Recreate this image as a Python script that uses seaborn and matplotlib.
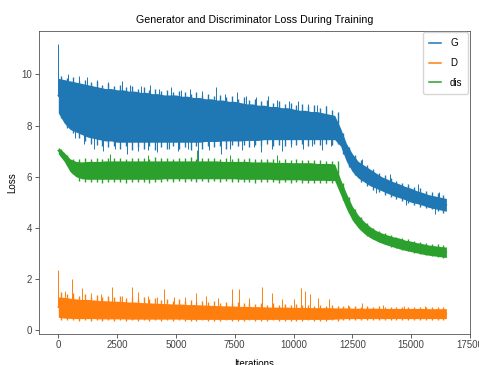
import numpy as np
import pandas as pd
import matplotlib
matplotlib.use("Agg")
import matplotlib.pyplot as plt
import seaborn as sns

# ---- data (band envelopes every 250 iterations) ----
iterations = list(range(0, 16501, 250))
mid_iterations = list(range(125, 16501, 250))

G_top = [9.85, 9.8, 9.75, 9.7, 9.65, 9.6, 9.55, 9.5, 9.45, 9.45,
         9.4, 9.4, 9.35, 9.35, 9.3, 9.3, 9.25, 9.25, 9.2, 9.2,
         9.2, 9.15, 9.15, 9.1, 9.1, 9.05, 9.05, 9.0, 9.0, 8.95,
         8.95, 8.9, 8.85, 8.85, 8.8, 8.8, 8.75, 8.75, 8.7, 8.7,
         8.65, 8.6, 8.6, 8.55, 8.55, 8.5, 8.45, 8.4, 7.9, 7.3,
         6.9, 6.6, 6.45, 6.3, 6.15, 6.0, 5.9, 5.8, 5.72, 5.62,
         5.55, 5.45, 5.38, 5.3, 5.25, 5.2, 5.15]
G_bot = [8.5, 8.1, 7.85, 7.75, 7.65, 7.55, 7.5, 7.45, 7.4, 7.4,
         7.35, 7.35, 7.35, 7.35, 7.35, 7.35, 7.35, 7.35, 7.35, 7.35,
         7.35, 7.35, 7.35, 7.35, 7.35, 7.38, 7.38, 7.38, 7.4, 7.4,
         7.4, 7.4, 7.42, 7.42, 7.42, 7.45, 7.45, 7.45, 7.45, 7.45,
         7.45, 7.45, 7.45, 7.45, 7.45, 7.45, 7.45, 7.45, 7.2, 6.6,
         6.2, 5.95, 5.8, 5.65, 5.55, 5.45, 5.35, 5.25, 5.18, 5.1,
         5.0, 4.95, 4.88, 4.8, 4.75, 4.7, 4.65]
# fine peaks / dips of the noise, between the envelope points
G_peak = [9.95, 9.85, 9.9, 9.75, 9.8, 9.7, 9.75, 9.6, 9.65, 9.55,
          9.6, 9.5, 9.55, 9.45, 9.5, 9.4, 9.45, 9.35, 9.4, 9.3,
          9.35, 9.3, 9.25, 9.3, 9.2, 9.25, 9.15, 9.2, 9.1, 9.15,
          9.05, 9.1, 9.0, 9.05, 8.95, 9.0, 8.9, 8.95, 8.85, 8.9,
          8.8, 8.85, 8.75, 8.8, 8.7, 8.75, 8.6, 8.55, 7.7, 7.15,
          6.85, 6.65, 6.45, 6.3, 6.15, 6.05, 5.95, 5.85, 5.75, 5.7,
          5.6, 5.55, 5.45, 5.4, 5.35, 5.3]
G_dip = [8.3, 7.9, 7.7, 7.5, 7.4, 7.3, 7.25, 7.2, 7.15, 7.2,
         7.1, 7.2, 7.05, 7.15, 7.1, 7.2, 7.05, 7.15, 7.1, 7.2,
         7.1, 7.15, 7.05, 7.2, 7.1, 7.2, 7.15, 7.2, 7.1, 7.25,
         7.2, 7.25, 7.15, 7.25, 7.2, 7.3, 7.2, 7.25, 7.2, 7.3,
         7.25, 7.3, 7.2, 7.3, 7.25, 7.3, 7.25, 7.3, 6.9, 6.4,
         6.05, 5.8, 5.65, 5.5, 5.4, 5.3, 5.2, 5.12, 5.05, 4.98,
         4.9, 4.83, 4.77, 4.72, 4.66, 4.6]

D_top = [1.3, 1.28, 1.25, 1.22, 1.2, 1.2, 1.18, 1.16, 1.15, 1.14,
         1.13, 1.12, 1.1, 1.1, 1.08, 1.07, 1.06, 1.05, 1.04, 1.03,
         1.02, 1.02, 1.0, 1.0, 0.99, 0.98, 0.97, 0.96, 0.95, 0.95,
         0.94, 0.93, 0.93, 0.92, 0.92, 0.91, 0.9, 0.9, 0.9, 0.9,
         0.89, 0.89, 0.89, 0.88, 0.88, 0.88, 0.88, 0.87, 0.87, 0.87,
         0.86, 0.86, 0.86, 0.86, 0.86, 0.85, 0.85, 0.85, 0.85, 0.85,
         0.85, 0.85, 0.85, 0.84, 0.84, 0.84, 0.84]
D_bot = [0.5, 0.47, 0.46, 0.45, 0.45, 0.45, 0.45, 0.44, 0.44, 0.44,
         0.44, 0.44, 0.43, 0.43, 0.43, 0.43, 0.43, 0.43, 0.43, 0.43,
         0.43, 0.43, 0.42, 0.42, 0.42, 0.42, 0.42, 0.42, 0.42, 0.42,
         0.42, 0.42, 0.42, 0.42, 0.42, 0.42, 0.42, 0.42, 0.42, 0.42,
         0.42, 0.42, 0.42, 0.42, 0.42, 0.42, 0.42, 0.43, 0.44, 0.45,
         0.45, 0.45, 0.45, 0.45, 0.45, 0.45, 0.45, 0.45, 0.45, 0.45,
         0.45, 0.45, 0.45, 0.45, 0.45, 0.45, 0.45]
D_peak = [1.5, 1.4, 1.45, 1.35, 1.4, 1.3, 1.38, 1.3, 1.35, 1.28,
          1.32, 1.25, 1.3, 1.22, 1.28, 1.2, 1.25, 1.18, 1.22, 1.15,
          1.2, 1.15, 1.18, 1.12, 1.15, 1.1, 1.15, 1.08, 1.12, 1.05,
          1.1, 1.05, 1.08, 1.02, 1.06, 1.0, 1.05, 1.0, 1.03, 0.98,
          1.02, 0.98, 1.0, 0.96, 0.98, 0.95, 0.97, 0.94, 0.95, 0.93,
          0.94, 0.92, 0.93, 0.92, 0.93, 0.91, 0.92, 0.91, 0.92, 0.9,
          0.92, 0.9, 0.91, 0.9, 0.91, 0.9]
D_dip = [0.4, 0.38, 0.4, 0.37, 0.39, 0.37, 0.4, 0.36, 0.39, 0.37,
         0.38, 0.36, 0.39, 0.37, 0.38, 0.36, 0.39, 0.37, 0.38, 0.36,
         0.38, 0.36, 0.37, 0.35, 0.38, 0.36, 0.37, 0.35, 0.38, 0.36,
         0.37, 0.35, 0.38, 0.36, 0.37, 0.35, 0.38, 0.36, 0.37, 0.35,
         0.37, 0.35, 0.38, 0.36, 0.37, 0.36, 0.38, 0.37, 0.39, 0.38,
         0.4, 0.38, 0.4, 0.39, 0.4, 0.38, 0.4, 0.39, 0.4, 0.38,
         0.4, 0.39, 0.4, 0.38, 0.4, 0.39]

dis_top = [7.15, 6.95, 6.7, 6.6, 6.58, 6.6, 6.6, 6.6, 6.62, 6.62,
           6.62, 6.62, 6.62, 6.62, 6.62, 6.62, 6.62, 6.62, 6.62, 6.62,
           6.62, 6.62, 6.62, 6.62, 6.62, 6.62, 6.62, 6.62, 6.6, 6.6,
           6.6, 6.6, 6.6, 6.58, 6.58, 6.58, 6.58, 6.56, 6.56, 6.56,
           6.55, 6.55, 6.55, 6.55, 6.52, 6.52, 6.52, 6.5, 5.9, 5.35,
           4.85, 4.5, 4.25, 4.05, 3.9, 3.8, 3.72, 3.65, 3.6, 3.52,
           3.48, 3.42, 3.38, 3.33, 3.3, 3.27, 3.25]
dis_bot = [6.9, 6.6, 6.2, 6.0, 5.92, 5.9, 5.9, 5.9, 5.9, 5.9,
           5.9, 5.9, 5.9, 5.9, 5.9, 5.9, 5.9, 5.9, 5.92, 5.92,
           5.92, 5.92, 5.92, 5.92, 5.92, 5.92, 5.92, 5.92, 5.92, 5.92,
           5.92, 5.9, 5.9, 5.9, 5.9, 5.9, 5.9, 5.88, 5.88, 5.88,
           5.88, 5.88, 5.86, 5.86, 5.86, 5.86, 5.85, 5.85, 5.3, 4.75,
           4.3, 4.0, 3.78, 3.62, 3.5, 3.4, 3.32, 3.25, 3.18, 3.12,
           3.07, 3.02, 2.97, 2.93, 2.9, 2.87, 2.84]
dis_peak = [7.1, 6.85, 6.7, 6.7, 6.75, 6.7, 6.75, 6.7, 6.75, 6.72,
            6.75, 6.7, 6.75, 6.72, 6.75, 6.7, 6.76, 6.72, 6.75, 6.7,
            6.75, 6.72, 6.76, 6.7, 6.75, 6.72, 6.75, 6.7, 6.72, 6.7,
            6.72, 6.7, 6.72, 6.68, 6.7, 6.68, 6.7, 6.66, 6.7, 6.66,
            6.68, 6.64, 6.66, 6.64, 6.64, 6.62, 6.62, 6.6, 5.75, 5.2,
            4.75, 4.42, 4.2, 4.0, 3.88, 3.8, 3.72, 3.66, 3.6, 3.55,
            3.5, 3.46, 3.42, 3.38, 3.35, 3.33]
dis_dip = [6.8, 6.45, 6.1, 5.85, 5.8, 5.78, 5.8, 5.76, 5.8, 5.78,
           5.8, 5.76, 5.8, 5.78, 5.8, 5.76, 5.8, 5.78, 5.82, 5.78,
           5.82, 5.78, 5.82, 5.8, 5.82, 5.78, 5.82, 5.8, 5.82, 5.8,
           5.8, 5.78, 5.8, 5.76, 5.8, 5.78, 5.78, 5.76, 5.78, 5.75,
           5.78, 5.75, 5.76, 5.74, 5.76, 5.74, 5.75, 5.72, 5.1, 4.6,
           4.2, 3.9, 3.7, 3.55, 3.44, 3.35, 3.27, 3.2, 3.13, 3.08,
           3.03, 2.98, 2.93, 2.9, 2.86, 2.82]

# isolated large spikes / dips (x, y)
G_spike_x = [0, 400, 900, 1200, 1650, 2100, 2700, 3050, 3500, 3900, 4300,
             4800, 5200, 5600, 6100, 6700, 7100, 7600, 8000, 8400, 8900,
             9300, 9800, 10200, 10600, 11000, 11400, 12900, 14100, 15300, 16200,
             700, 1100, 1500, 1900, 2400, 2900, 3400, 3800, 4200, 4700,
             5100, 5500, 5930, 6400, 6900, 7300, 7800, 8300, 8600, 9100,
             9500, 9900, 10400, 10800, 11200, 11600, 13500, 14800, 16000]
G_spike_y = [11.2, 10.0, 9.95, 9.9, 9.8, 9.7, 9.75, 9.6, 9.55, 9.6, 9.45,
             9.5, 9.4, 9.45, 9.35, 9.5, 9.25, 9.3, 9.15, 9.1, 9.15,
             9.0, 8.95, 8.95, 8.85, 8.8, 8.75, 6.7, 6.1, 5.7, 5.4,
             7.5, 7.3, 7.1, 7.0, 7.1, 6.9, 7.0, 7.05, 6.95, 7.1,
             7.0, 7.1, 6.6, 7.05, 6.9, 7.1, 7.05, 7.15, 6.95, 7.1,
             7.0, 7.15, 7.1, 7.2, 7.05, 7.2, 5.35, 4.9, 4.55]

D_spike_x = [0, 300, 600, 1000, 1400, 1800, 2300, 2700, 3150, 3400, 3800,
             4200, 4500, 4900, 5400, 5850, 6300, 6800, 7370, 7670, 8100,
             8650, 9070, 9500, 10000, 10300, 10470, 10720, 11060, 11500, 12300,
             12900, 13800, 14700, 15600]
D_spike_y = [2.35, 1.55, 2.0, 1.65, 1.45, 1.4, 1.7, 1.35, 1.7, 1.5, 1.35,
             1.3, 1.6, 1.3, 1.3, 1.45, 1.35, 1.25, 1.6, 1.6, 1.25,
             1.7, 1.45, 1.2, 1.2, 1.65, 1.55, 1.4, 1.25, 1.2, 1.0,
             1.05, 1.0, 0.95, 0.95]

dis_spike_x = [2200, 3800, 5900, 7300, 9300]
dis_spike_y = [6.9, 6.85, 7.05, 6.85, 6.85]

series_names = ["G", "D", "dis"]
colors = ["#1f77b4", "#ff7f0e", "#2ca02c"]

bands = {"G": (G_top, G_bot), "D": (D_top, D_bot), "dis": (dis_top, dis_bot)}
fuzz = {"G": (G_peak, G_dip), "D": (D_peak, D_dip), "dis": (dis_peak, dis_dip)}
spikes = {"G": (G_spike_x, G_spike_y), "D": (D_spike_x, D_spike_y),
          "dis": (dis_spike_x, dis_spike_y)}

rows = []
for name in series_names:
    top, bot = bands[name]
    for x, t, b in zip(iterations, top, bot):
        rows.append({"Iterations": x, "Loss": t, "series": name})
        rows.append({"Iterations": x, "Loss": b, "series": name})
df = pd.DataFrame(rows)

fs = 7.0
plt.rcParams["font.family"] = ["Liberation Sans", "DejaVu Sans"]
plt.rcParams["font.size"] = fs

fig = plt.figure(figsize=(4.79, 3.65), dpi=100)
ax = fig.add_axes([0.081, 0.085, 0.900, 0.830])

sns.lineplot(data=df, x="Iterations", y="Loss", hue="series",
             hue_order=series_names, palette=colors,
             estimator="mean", errorbar=("pi", 100),
             err_kws={"alpha": 1.0, "linewidth": 0}, linewidth=1.1, ax=ax)

for name, c in zip(series_names, colors):
    top, bot = bands[name]
    mid = (np.array(top) + np.array(bot)) / 2
    pk, dp = fuzz[name]
    mmid = np.interp(mid_iterations, iterations, mid)
    ax.vlines(mid_iterations, mmid, pk, color=c, lw=1.0)
    ax.vlines(mid_iterations, dp, mmid, color=c, lw=1.0)
    sx, sy = spikes[name]
    base = np.interp(sx, iterations, mid)
    ax.vlines(sx, base, sy, color=c, lw=0.7)

ax.set_xlim(-830, 17440)
ax.set_ylim(-0.15, 11.7)
ax.set_yticks([0, 2, 4, 6, 8, 10])
ax.set_xticks([0, 2500, 5000, 7500, 10000, 12500, 15000, 17500])
ax.tick_params(labelsize=fs, length=2.6, width=0.6, pad=2, colors="#444444")
for s in ax.spines.values():
    s.set_linewidth(0.6)
    s.set_color("#555555")
ax.set_title("Generator and Discriminator Loss During Training", fontsize=7.7, pad=6)
ax.set_xlabel("Iterations", fontsize=fs, labelpad=6)
ax.set_ylabel("Loss", fontsize=fs, labelpad=3)

leg = ax.legend(loc="upper right", fontsize=fs, handlelength=1.3,
                borderpad=0.6, labelspacing=1.0, handletextpad=0.9,
                borderaxespad=0.15)
for h in leg.get_lines():
    h.set_linewidth(1.1)

fig.savefig("out.png", dpi=100)
